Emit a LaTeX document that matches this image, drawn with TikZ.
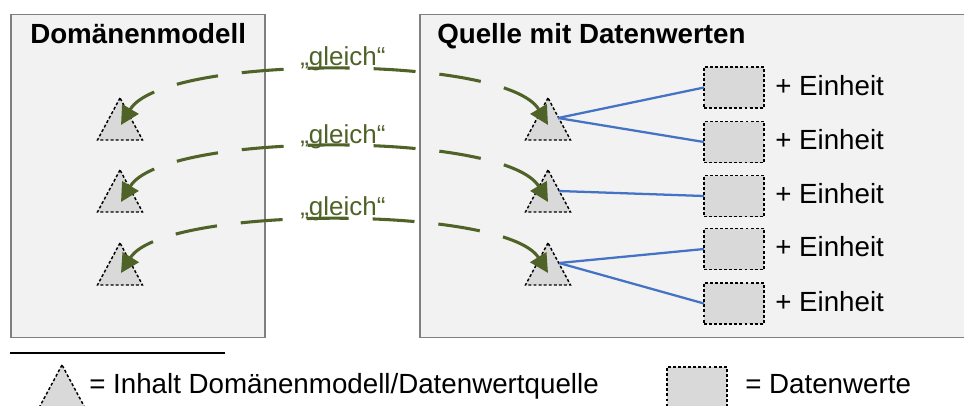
\documentclass[tikz,border=0pt]{standalone}
\usepackage{fontspec}
\setmainfont{Liberation Sans}
\usetikzlibrary{shapes.geometric,arrows.meta,calc}
\definecolor{gcol}{HTML}{4F6228}
\definecolor{bcol}{HTML}{4472C4}
\definecolor{boxfill}{HTML}{F2F2F2}
\definecolor{boxline}{HTML}{7F7F7F}
\definecolor{itemfill}{HTML}{D9D9D9}
\tikzset{
  panel/.style={draw=boxline, line width=1.1pt, fill=boxfill, inner sep=0pt, outer sep=0pt, anchor=north west},
  tri/.style={isosceles triangle, isosceles triangle apex angle=56.4, shape border rotate=90,
    draw=black, fill=itemfill, dash pattern=on 2.2pt off 1.6pt, line width=1.1pt,
    inner sep=0pt, outer sep=0pt, minimum width=31.5pt, minimum height=31.5pt, anchor=apex},
  datum/.style={rectangle, draw=black, fill=itemfill, dash pattern=on 2.2pt off 1.6pt, line width=1.1pt,
    inner sep=0pt, outer sep=0pt, minimum width=45pt, minimum height=30.75pt},
  title/.style={font=\fontsize{20.8pt}{24pt}\selectfont\bfseries, inner sep=0pt, anchor=base west},
  lbl/.style={font=\fontsize{20.8pt}{24pt}\selectfont, inner sep=0pt, anchor=base west},
  glbl/.style={font=\fontsize{19.5pt}{23pt}\selectfont, text=gcol, inner sep=0pt, anchor=base west},
  garrow/.style={draw=gcol, line width=2.3pt, dash pattern=on 31.5pt off 18pt,
    {Triangle[length=14pt,width=14pt]}-{Triangle[length=14pt,width=14pt]}},
  bline/.style={draw=bcol, line width=1.7pt}
}
\begin{document}
\begin{tikzpicture}[x=0.75pt,y=-0.75pt]
\useasboundingbox (0,0) rectangle (964,405);

% panels
\node[panel, minimum width=190.5pt, minimum height=242.25pt] (pl) at (11,14.5) {};
\node[panel, minimum width=412.5pt, minimum height=242.25pt] (pr) at (420,14.5) {};
\node[title] (tl) at (30,43) {Domänenmodell};
\node[title] (tr) at (437,43) {Quelle mit Datenwerten};

% triangles
\node[tri] (l1) at (120,98) {};
\node[tri] (l2) at (120,170) {};
\node[tri] (l3) at (120,243) {};
\node[tri] (r1) at (548,98) {};
\node[tri] (r2) at (548,170) {};
\node[tri] (r3) at (548,243) {};

% data values
\node[datum] (d1) at (734,87.5) {};
\node[datum] (d2) at (734,142) {};
\node[datum] (d3) at (734,196) {};
\node[datum] (d4) at (734,249) {};
\node[datum] (d5) at (734,303.5) {};
\foreach \i/\y in {1/95,2/149.5,3/203.5,4/256.5,5/311}{
  \node[lbl] (e\i) at (775,\y) {+ Einheit};
}

% blue links
\coordinate (b1) at ($(r1.apex)+(10,20)$);
\coordinate (b2) at ($(r2.apex)+(11,21)$);
\coordinate (b3) at ($(r3.apex)+(11,20)$);
\draw[bline] (b1) -- (d1.west);
\draw[bline] (b1) -- (d2.west);
\draw[bline] (b2) -- (d3.west);
\draw[bline] (b3) -- (d4.west);
\draw[bline] (b3) -- (d5.west);

% green equality arrows
\coordinate (lt1) at ($(l1.apex)+(1,27)$);
\coordinate (lt2) at ($(l2.apex)+(1,32)$);
\coordinate (lt3) at ($(l3.apex)+(1,30)$);
\coordinate (rt1) at ($(r1.apex)+(0,27)$);
\coordinate (rt2) at ($(r2.apex)+(0,32)$);
\coordinate (rt3) at ($(r3.apex)+(0,30)$);
\draw[garrow] (rt1) .. controls +(-42,-71) and +(42,-71) .. (lt1);
\draw[garrow] (rt2) .. controls +(-42,-71) and +(42,-71) .. (lt2);
\draw[garrow] (rt3) .. controls +(-42,-68) and +(42,-68) .. (lt3);
\node[glbl] (g1) at (300,65) {„gleich“};
\node[glbl] (g2) at (300,143) {„gleich“};
\node[glbl] (g3) at (300,215) {„gleich“};

% legend
\draw[line width=1.5pt] (10,352.7) -- (225,352.7);
\node[tri] (lgt) at (62,365) {};
\node[lbl] (lgtx) at (89,393) {= Inhalt Domänenmodell/Datenwertquelle};
\node[datum, anchor=north west] (lgd) at (667,367) {};
\node[lbl] (lgdx) at (745,393) {= Datenwerte};
\end{tikzpicture}
\end{document}
